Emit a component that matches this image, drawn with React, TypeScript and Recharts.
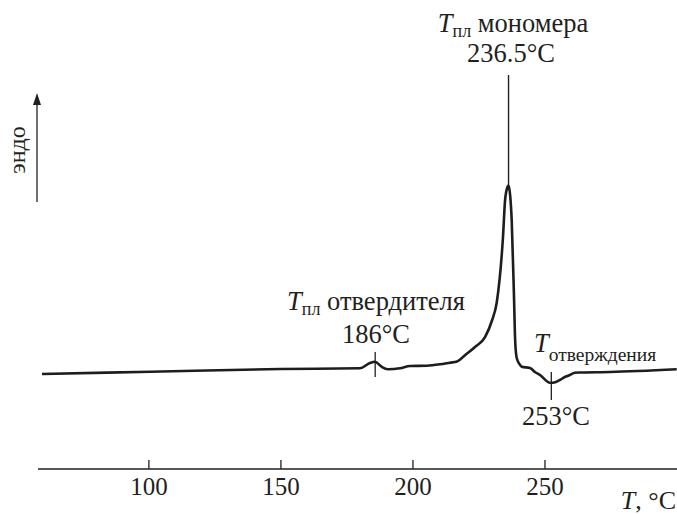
import React from "react";
import {
    LineChart,
    Line,
    XAxis,
    YAxis,
    ReferenceLine,
} from "recharts";

// DSC trace, temperature in °C vs heat flow (arbitrary units, endo up)
const temps = [
    59.5, 100.7, 149.9, 179.9, 183.7, 185.6, 188.1, 190.5, 195.1, 198.9,
    205.2, 210.2, 214.0, 216.7, 219.8, 223.5, 227.3, 230.0, 231.7, 234.1,
    234.9, 235.8, 236.2, 236.8, 237.4, 238.3, 238.7, 239.3, 240.6, 241.2,
    244.3, 246.2, 248.1, 251.9, 253.0, 255.7, 256.8, 259.4, 261.3, 263.2,
    274.6, 299.9,
];
const heatFlow = [
    20.26, 20.75, 21.32, 21.47, 22.6, 22.88, 21.81, 21.26, 21.47, 21.96,
    22.03, 22.32, 22.67, 22.92, 24.31, 26.01, 28.14, 31.77, 35.39, 49.47,
    57.36, 60.13, 60.45, 58.42, 53.09, 36.03, 27.51, 23.67, 22.17, 21.81,
    21.54, 20.68, 20.04, 18.4, 18.4, 18.98, 19.4, 20.04, 20.53, 20.58,
    20.68, 21.26,
];
const xTicks = [100, 150, 200, 250];

// markers: [T, yFrom, yTo]
const monomerMelt = [236.2, 60.45, 84.0];
const hardenerMelt = [185.7, 19.6, 24.95];
const curing = [252.4, 14.7, 20.7];

const data = temps.map((t, i) => ({ t, q: heatFlow[i] }));

const INK = "#231f20";
const FONT = "'Liberation Serif', 'DejaVu Serif', serif";

const AxisTick = ({ x, y, payload }: any) => (
    <g>
        <line x1={x} x2={x} y1={y} y2={y - 9} stroke={INK} strokeWidth={1.3} />
        <text x={x} y={y + 26} textAnchor="middle" fill={INK} fontSize={25} fontFamily={FONT}>
            {payload.value}
        </text>
    </g>
);

const seg = (m: number[]) => [
    { x: m[0], y: m[1] },
    { x: m[0], y: m[2] },
];

export default function App() {
    return (
        <div style={{ position: "absolute", left: 0, top: 0, width: 677, height: 514, background: "#fff" }}>
            <LineChart
                width={677}
                height={514}
                data={data}
                margin={{ top: 0, right: 0, bottom: 0, left: 38 }}
            >
                <XAxis
                    dataKey="t"
                    type="number"
                    domain={[58, 300]}
                    ticks={xTicks}
                    height={45}
                    tickSize={0}
                    tickMargin={0}
                    tickLine={false}
                    axisLine={{ stroke: INK, strokeWidth: 1.5 }}
                    tick={<AxisTick />}
                    allowDataOverflow
                />
                <YAxis hide width={0} type="number" domain={[0, 100]} />

                <Line
                    type="monotone"
                    dataKey="q"
                    stroke="#1d1d1b"
                    strokeWidth={2.6}
                    dot={false}
                    isAnimationActive={false}
                />

                <ReferenceLine segment={seg(monomerMelt)} stroke={INK} strokeWidth={1.4} />
                <ReferenceLine segment={seg(hardenerMelt)} stroke={INK} strokeWidth={1.3} />
                <ReferenceLine segment={seg(curing)} stroke={INK} strokeWidth={1.3} />

                {/* annotations */}
                <text x={513} y={32} textAnchor="middle" fill={INK} fontSize={26.5} fontFamily={FONT}>
                    <tspan fontStyle="italic">T</tspan>
                    <tspan fontSize={18} dy={5}>пл</tspan>
                    <tspan dy={-5}> мономера</tspan>
                </text>
                <text x={511} y={62} textAnchor="middle" fill={INK} fontSize={26.5} fontFamily={FONT}>
                    236.5°C
                </text>

                <text x={376} y={310} textAnchor="middle" fill={INK} fontSize={26.5} fontFamily={FONT}>
                    <tspan fontStyle="italic">T</tspan>
                    <tspan fontSize={18} dy={5}>пл</tspan>
                    <tspan dy={-5}> отвердителя</tspan>
                </text>
                <text x={376} y={343} textAnchor="middle" fill={INK} fontSize={26.5} fontFamily={FONT}>
                    186°C
                </text>

                <text x={534} y={352} fill={INK} fontSize={26.5} fontFamily={FONT}>
                    <tspan fontStyle="italic">T</tspan>
                    <tspan fontSize={19.5} dy={9}>отверждения</tspan>
                </text>
                <text x={556} y={425} textAnchor="middle" fill={INK} fontSize={26.5} fontFamily={FONT}>
                    253°C
                </text>

                <text x={676} y={509} textAnchor="end" fill={INK} fontSize={26} fontFamily={FONT}>
                    <tspan fontStyle="italic">T</tspan>
                    <tspan>, °C</tspan>
                </text>

                {/* endo arrow */}
                <line x1={37} x2={37} y1={102} y2={202} stroke={INK} strokeWidth={1.3} />
                <polygon points="37,93 33,105 41,105" fill={INK} />
                <text
                    x={0}
                    y={0}
                    transform="translate(25,150) rotate(-90)"
                    textAnchor="middle"
                    fill={INK}
                    fontSize={24}
                    fontFamily={FONT}
                >
                    эндо
                </text>
            </LineChart>
        </div>
    );
}
